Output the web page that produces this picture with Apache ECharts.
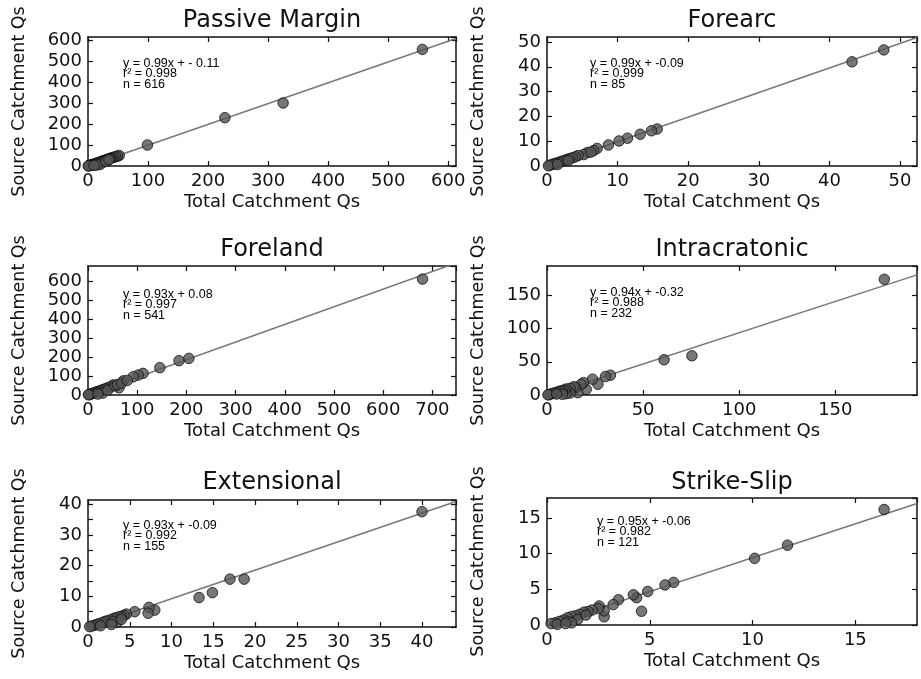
<!DOCTYPE html>
<html>
<head>
<meta charset="utf-8">
<script src="https://cdn.jsdelivr.net/npm/echarts@6/dist/echarts.min.js"></script>
<style>html,body{margin:0;padding:0;background:#fff}#c{width:921px;height:679px}</style>
</head>
<body>
<div id="c"></div>
<script>
// ---- data ----
const panelTitles = ['Passive Margin', 'Forearc', 'Foreland', 'Intracratonic', 'Extensional', 'Strike-Slip'];
const slopes = [0.99, 0.99, 0.93, 0.94, 0.93, 0.95];
const intercepts = [-0.11, -0.09, 0.08, -0.32, -0.09, -0.06];
const eqTexts = ['y = 0.99x + - 0.11', 'y = 0.99x + -0.09', 'y = 0.93x + 0.08', 'y = 0.94x + -0.32', 'y = 0.93x + -0.09', 'y = 0.95x + -0.06'];
const r2Values = ['0.998', '0.999', '0.997', '0.988', '0.992', '0.982'];
const nCounts = [616, 85, 541, 232, 155, 121];
const xMaxes = [613, 52.4, 748, 192.5, 44.07, 18.0];
const yMaxes = [614, 52, 680, 194, 41.4, 17.82];
const xTickSteps = [100, 10, 100, 50, 5, 5];
const yTickSteps = [100, 10, 100, 50, 5, 5];
const yLabelSteps = [100, 10, 100, 50, 10, 5];

const passiveMargin = [[557,555],[325,300],[228,230],[99,100],[52,50],[49,47],[46,44],[43,42],[40,39],[38,37],[36,35],[34,33],[32,31],[30,29],[28,27],[26,25],[24,23],[22,21],[20,19],[18,17],[16,15],[14,13],[12,11],[10,9],[8,8],[7,6],[6,5],[5,4],[4,3],[3,3],[2,2],[1,1],[0.5,0.3],[25,18],[20,7],[15,5],[30,22],[10,3],[35,30]];
const forearc = [[47.7,46.8],[43.2,42.0],[15.6,14.9],[14.8,14.2],[13.2,12.8],[11.4,11.2],[10.2,10.1],[8.7,8.5],[7.1,7.1],[6.6,6.2],[5.7,5.4],[5.2,4.6],[4.4,4.2],[4.0,3.7],[3.6,3.3],[3.2,3.0],[2.8,2.6],[2.5,2.2],[2.2,2.0],[1.9,1.7],[1.6,1.4],[1.3,1.1],[1.0,0.9],[0.7,0.6],[0.4,0.3],[0.2,0.1],[6.2,5.6],[3.0,2.2],[1.5,0.6]];
const foreland = [[680,611],[205,193],[185,181],[146,144],[112,114],[102,105],[92,96],[72,75],[63,38],[51,53],[45,42],[40,38],[35,33],[30,28],[26,24],[22,20],[18,17],[15,14],[12,11],[9,8],[6,6],[4,3],[2,2],[1,1],[30,10],[20,5],[40,25],[55,48],[60,55],[68,62],[80,77]];
const intracratonic = [[175.5,174],[75.4,59],[60.9,53],[33,29.8],[30.4,27.7],[26.5,16.2],[23.7,23.8],[20.4,8.6],[19,18.6],[17.8,16.2],[16,3.5],[15,11],[14,12.5],[12,10],[12,3],[10,9],[10,2],[9,7.5],[8,6],[7,6],[6,5],[5,4],[4,3],[3,2.5],[2,1.5],[1,0.5],[0.5,0.2],[8,1],[5,1.5]];
const extensional = [[40,37.6],[18.7,15.6],[17,15.6],[14.9,11.2],[13.3,9.6],[8.0,5.5],[7.3,6.4],[7.2,4.5],[5.6,5.0],[4.6,4.2],[4.3,3.8],[4,3.5],[3.7,3.3],[3.3,3],[3,2.7],[2.7,2.3],[2.3,2],[2,1.8],[1.7,1.4],[1.3,1.1],[1,0.8],[0.7,0.5],[0.4,0.3],[0.2,0.1],[3.5,1.5],[3.0,1.7],[2.8,0.8],[4,2.5],[1.5,0.4]];
const strikeSlip = [[16.4,16.2],[11.7,11.2],[10.1,9.35],[6.16,5.98],[5.74,5.62],[4.9,4.7],[4.6,1.93],[4.36,3.83],[4.2,4.24],[3.48,3.55],[3.22,2.86],[2.78,1.15],[2.78,1.98],[2.54,2.67],[2.5,2.3],[2.2,2.1],[2.0,1.9],[1.8,1.8],[1.6,1.5],[1.4,1.3],[1.2,1.2],[1.0,1.0],[0.8,0.7],[0.6,0.5],[0.4,0.3],[0.2,0.2],[1.0,0.5],[1.5,0.8],[0.5,0.1],[1.2,0.3],[1.9,1.4],[0.9,0.2]];
const panelData = [passiveMargin, forearc, foreland, intracratonic, extensional, strikeSlip];

// ---- layout ----
const grids = [
  {left: 88, top: 37, width: 368, height: 129},
  {left: 547, top: 37, width: 370, height: 129},
  {left: 88, top: 266, width: 368, height: 129},
  {left: 547, top: 266, width: 370, height: 129},
  {left: 88, top: 500, width: 368, height: 127},
  {left: 547, top: 498, width: 370, height: 127}
];
const annoPos = [[123, 58], [590, 58], [123, 289], [590, 287], [123, 520], [597, 516]];
const titleY = [9, 9, 238, 238, 471, 471];

const FONT = 'DejaVu Sans';
const axisLineStyle = {show: true, onZero: false, lineStyle: {color: '#111', width: 1.5}};
const tickStyle = {show: true, inside: true, length: 5, lineStyle: {color: '#111', width: 1.2}};

const xAxes = [], yAxes = [], series = [], titles = [];
panelData.forEach((d, i) => {
  const xm = xMaxes[i], ym = yMaxes[i];
  xAxes.push({
    type: 'value', gridIndex: i, min: 0, max: xm, interval: xTickSteps[i], position: 'bottom',
    axisLine: axisLineStyle, axisTick: tickStyle, splitLine: {show: false},
    axisLabel: {color: '#111', fontSize: 18, fontFamily: FONT, margin: 6, showMaxLabel: false},
    name: 'Total Catchment Qs', nameLocation: 'middle', nameGap: 27,
    nameTextStyle: {color: '#111', fontSize: 18, fontFamily: FONT}
  });
  xAxes.push({
    type: 'value', gridIndex: i, min: 0, max: xm, interval: xTickSteps[i], position: 'top',
    axisLine: axisLineStyle, axisTick: tickStyle, splitLine: {show: false}, axisLabel: {show: false}
  });
  const ls = yLabelSteps[i];
  yAxes.push({
    type: 'value', gridIndex: i, min: 0, max: ym, interval: yTickSteps[i], position: 'left',
    axisLine: axisLineStyle, axisTick: tickStyle, splitLine: {show: false},
    axisLabel: {color: '#111', fontSize: 18, fontFamily: FONT, margin: 6, showMaxLabel: false,
      formatter: v => (Math.abs(v / ls - Math.round(v / ls)) < 1e-6 ? String(v) : '')},
    name: 'Source Catchment Qs', nameLocation: 'middle', nameGap: 60,
    nameTextStyle: {color: '#111', fontSize: 17.5, fontFamily: FONT}
  });
  yAxes.push({
    type: 'value', gridIndex: i, min: 0, max: ym, interval: yTickSteps[i], position: 'right',
    axisLine: axisLineStyle, axisTick: tickStyle, splitLine: {show: false}, axisLabel: {show: false}
  });
  series.push({
    type: 'line', xAxisIndex: 2 * i, yAxisIndex: 2 * i, symbol: 'none', clip: true, silent: true,
    lineStyle: {color: '#777', width: 1.5}, z: 2,
    data: [[0, intercepts[i]], [xm, slopes[i] * xm + intercepts[i]]]
  });
  series.push({
    type: 'scatter', xAxisIndex: 2 * i, yAxisIndex: 2 * i, symbol: 'circle', symbolSize: 10.5, z: 3,
    itemStyle: {color: '#555', borderColor: '#111', borderWidth: 1}, data: d
  });
  const g = grids[i];
  titles.push({
    text: panelTitles[i], left: g.left + g.width / 2, top: titleY[i], textAlign: 'center', padding: 0,
    textStyle: {fontSize: 24, fontWeight: 'normal', color: '#111', fontFamily: FONT}
  });
  titles.push({
    text: eqTexts[i] + '\nr\u00B2 = ' + r2Values[i] + '\nn = ' + nCounts[i],
    left: annoPos[i][0], top: annoPos[i][1], padding: 0,
    textStyle: {fontSize: 12.5, fontWeight: 'normal', color: '#000', fontFamily: 'Liberation Sans', lineHeight: 10.5}
  });
});

const chart = echarts.init(document.getElementById('c'), null, {renderer: 'canvas'});
chart.setOption({
  backgroundColor: '#fff',
  animation: false,
  title: titles,
  grid: grids,
  xAxis: xAxes,
  yAxis: yAxes,
  series: series
});
</script>
</body>
</html>
